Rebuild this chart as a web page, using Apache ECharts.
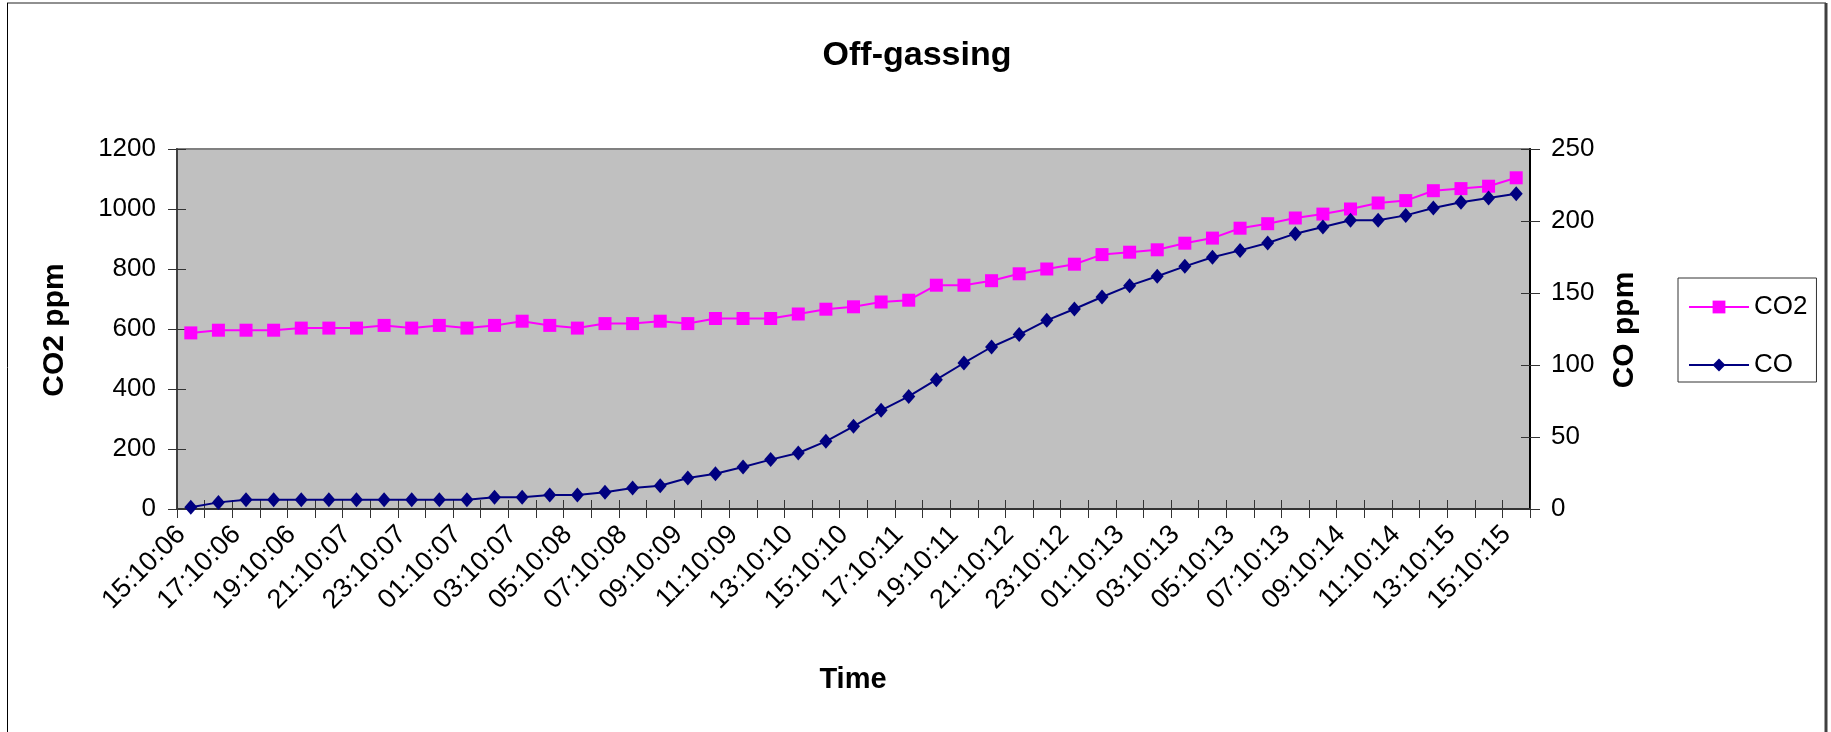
<!DOCTYPE html>
<html>
<head>
<meta charset="utf-8">
<title>Off-gassing</title>
<script src="https://cdn.jsdelivr.net/npm/echarts@6/dist/echarts.min.js"></script>
<style>
  html, body { margin: 0; padding: 0; background: #ffffff; }
  #chart { width: 1831px; height: 732px; }
</style>
</head>
<body>
<div id="chart"></div>
<script>
// Hourly readings over two days
const categories = [
  '15:10:06', '16:10:06', '17:10:06', '18:10:06', '19:10:06', '20:10:06', '21:10:07', '22:10:07',
  '23:10:07', '00:10:07', '01:10:07', '02:10:07', '03:10:07', '04:10:07', '05:10:08', '06:10:08',
  '07:10:08', '08:10:08', '09:10:09', '10:10:09', '11:10:09', '12:10:09', '13:10:10', '14:10:10',
  '15:10:10', '16:10:10', '17:10:11', '18:10:11', '19:10:11', '20:10:11', '21:10:12', '22:10:12',
  '23:10:12', '00:10:12', '01:10:13', '02:10:13', '03:10:13', '04:10:13', '05:10:13', '06:10:13',
  '07:10:13', '08:10:13', '09:10:14', '10:10:14', '11:10:14', '12:10:14', '13:10:15', '14:10:15',
  '15:10:15'
];

// CO2 concentration, ppm (left axis)
const co2Values = [
  587, 596, 596, 596, 603, 603, 603, 612,
  603, 612, 603, 612, 626, 612, 603, 618,
  618, 626, 618, 635, 635, 635, 650, 666,
  674, 690, 696, 746, 746, 761, 784, 800,
  816, 848, 856, 864, 886, 903, 936, 951,
  970, 983, 1000, 1020, 1028, 1061, 1068, 1076,
  1104
];

// CO concentration, ppm (right axis)
const coValues = [
  1.2, 4.6, 6.5, 6.5, 6.5, 6.5, 6.5, 6.5,
  6.5, 6.5, 6.5, 8.1, 8.1, 9.7, 9.7, 11.6,
  14.6, 16.2, 21.5, 24.5, 29.2, 34.3, 38.9, 47.0,
  57.4, 68.5, 78.2, 89.8, 101.4, 112.5, 121.1, 131.0,
  138.9, 147.2, 155.1, 161.6, 168.5, 174.8, 179.6, 184.7,
  191.2, 195.8, 200.5, 200.5, 203.9, 209.0, 213.0, 216.0,
  219.0
];

// Axis ranges
const co2Axis = { min: 0, max: 1200, interval: 200 };
const coAxis = { min: 0, max: 250, interval: 50 };

const FONT = "'Liberation Sans', Arial, sans-serif";
const plainNumber = (v) => String(v);
const chart = echarts.init(document.getElementById('chart'), null, { renderer: 'canvas' });

const hiddenAxisParts = {
  axisLine: { show: false },
  axisLabel: { show: false },
  splitLine: { show: false }
};

const option = {
  animation: false,
  backgroundColor: '#ffffff',
  grid: {
    left: 177,
    right: 301,
    top: 149,
    bottom: 223,
    show: true,
    backgroundColor: '#c0c0c0',
    borderColor: '#808080',
    borderWidth: 2,
    containLabel: false,
    outerBoundsMode: 'none'
  },
  legend: {
    orient: 'vertical',
    left: 1678,
    top: 278,
    padding: [16, 9, 4, 10],
    itemGap: 32,
    itemWidth: 60,
    itemHeight: 16,
    borderColor: '#333333',
    borderWidth: 1,
    backgroundColor: '#ffffff',
    selectedMode: false,
    textStyle: { fontFamily: FONT, fontSize: 26, color: '#000000' },
    data: ['CO2', 'CO']
  },
  xAxis: [
    {
      type: 'category',
      data: categories,
      boundaryGap: true,
      position: 'bottom',
      axisLine: { show: true, lineStyle: { color: '#333333', width: 2 } },
      axisTick: { show: true, interval: 0, length: 9, lineStyle: { color: '#333333', width: 1 } },
      axisLabel: {
        interval: 1,
        rotate: 45,
        margin: 31,
        verticalAlign: 'bottom',
        fontFamily: FONT,
        fontSize: 27,
        color: '#000000'
      },
      splitLine: { show: false }
    },
    Object.assign({
      type: 'category',
      data: categories,
      boundaryGap: true,
      position: 'bottom',
      axisTick: { show: true, inside: true, interval: 0, length: 9, lineStyle: { color: '#333333', width: 1 } }
    }, hiddenAxisParts)
  ],
  yAxis: [
    {
      type: 'value',
      position: 'left',
      min: co2Axis.min,
      max: co2Axis.max,
      interval: co2Axis.interval,
      axisLine: { show: true, lineStyle: { color: '#404040', width: 2 } },
      axisTick: { show: true, length: 9, lineStyle: { color: '#333333', width: 1 } },
      axisLabel: { margin: 21, fontFamily: FONT, fontSize: 26, color: '#000000', formatter: plainNumber },
      splitLine: { show: false }
    },
    {
      type: 'value',
      position: 'right',
      min: coAxis.min,
      max: coAxis.max,
      interval: coAxis.interval,
      axisLine: { show: true, lineStyle: { color: '#000000', width: 2 } },
      axisTick: { show: true, length: 10, lineStyle: { color: '#333333', width: 1 } },
      axisLabel: { margin: 21, fontFamily: FONT, fontSize: 26, color: '#000000', formatter: plainNumber },
      splitLine: { show: false }
    },
    Object.assign({
      type: 'value',
      position: 'left',
      min: co2Axis.min,
      max: co2Axis.max,
      interval: co2Axis.interval,
      axisTick: { show: true, inside: true, length: 9, lineStyle: { color: '#333333', width: 1 } }
    }, hiddenAxisParts),
    Object.assign({
      type: 'value',
      position: 'right',
      min: coAxis.min,
      max: coAxis.max,
      interval: coAxis.interval,
      axisTick: { show: true, inside: true, length: 9, lineStyle: { color: '#333333', width: 1 } }
    }, hiddenAxisParts)
  ],
  series: [
    {
      name: 'CO2',
      type: 'line',
      xAxisIndex: 0,
      yAxisIndex: 0,
      data: co2Values,
      symbol: 'rect',
      symbolSize: 13,
      showAllSymbol: true,
      lineStyle: { color: '#ff00ff', width: 2 },
      itemStyle: { color: '#ff00ff', borderWidth: 0 },
      emphasis: { disabled: true },
      z: 3
    },
    {
      name: 'CO',
      type: 'line',
      xAxisIndex: 0,
      yAxisIndex: 1,
      data: coValues,
      symbol: 'diamond',
      symbolSize: [13, 15],
      showAllSymbol: true,
      lineStyle: { color: '#000080', width: 2 },
      itemStyle: { color: '#000080', borderWidth: 0 },
      emphasis: { disabled: true },
      z: 4
    }
  ],
  graphic: [
    // chart area frame
    { type: 'line', silent: true, shape: { x1: 7, y1: 3, x2: 1826, y2: 3 }, style: { stroke: '#909090', lineWidth: 2 } },
    { type: 'line', silent: true, shape: { x1: 7.5, y1: 3, x2: 7.5, y2: 732 }, style: { stroke: '#000000', lineWidth: 1 } },
    { type: 'line', silent: true, shape: { x1: 1826, y1: 3, x2: 1826, y2: 732 }, style: { stroke: '#404040', lineWidth: 3 } },
    // titles
    {
      type: 'text', silent: true, x: 917, y: 56,
      style: { text: 'Off-gassing', font: 'bold 34px ' + FONT, fill: '#000000', align: 'center', verticalAlign: 'middle' }
    },
    {
      type: 'text', silent: true, x: 853, y: 680,
      style: { text: 'Time', font: 'bold 29px ' + FONT, fill: '#000000', align: 'center', verticalAlign: 'middle' }
    },
    {
      type: 'text', silent: true, x: 55, y: 330, rotation: Math.PI / 2,
      style: { text: 'CO2 ppm', font: 'bold 30px ' + FONT, fill: '#000000', align: 'center', verticalAlign: 'middle' }
    },
    {
      type: 'text', silent: true, x: 1625, y: 330, rotation: Math.PI / 2,
      style: { text: 'CO ppm', font: 'bold 30px ' + FONT, fill: '#000000', align: 'center', verticalAlign: 'middle' }
    }
  ]
};

chart.setOption(option);
</script>
</body>
</html>
